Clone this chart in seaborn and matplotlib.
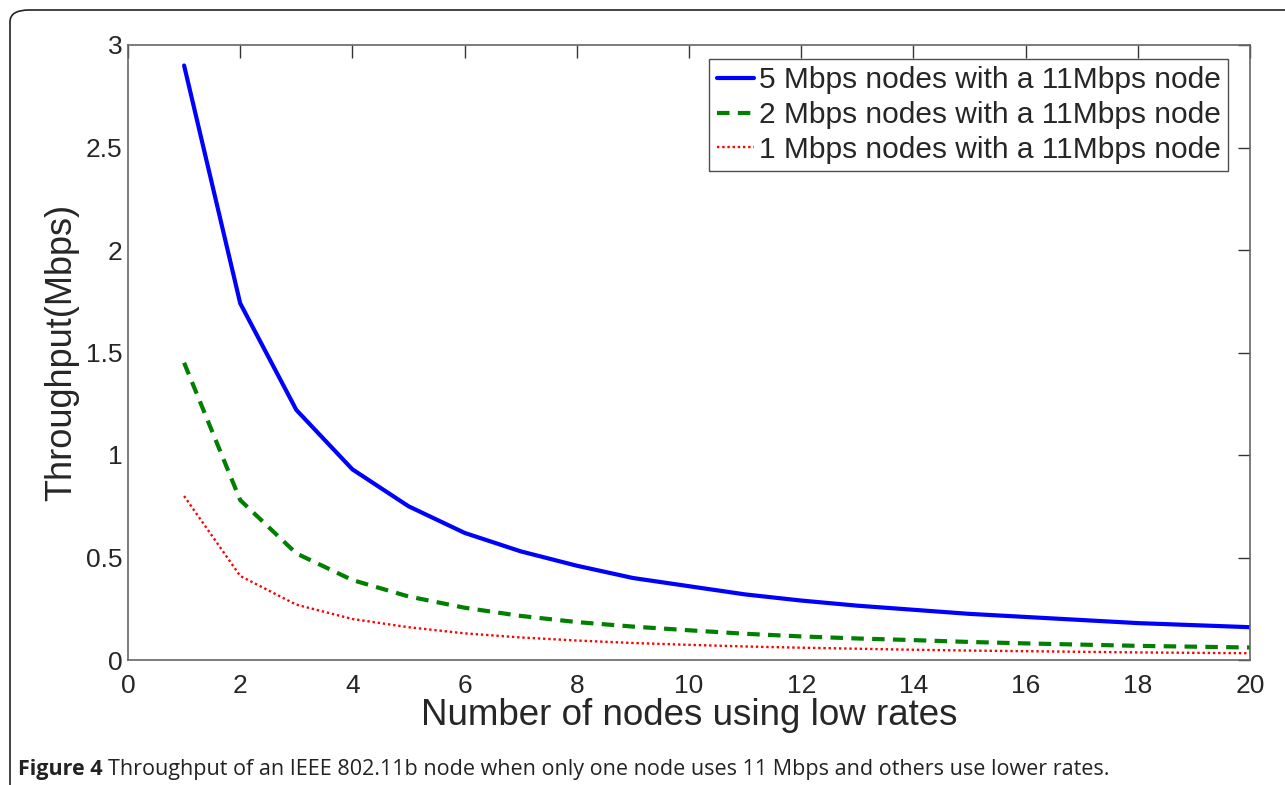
import matplotlib
matplotlib.use("Agg")
import matplotlib.pyplot as plt
from matplotlib.patches import FancyBboxPatch
import seaborn as sns
import pandas as pd

nodes = list(range(1, 21))
rate_5mbps = [2.90, 1.74, 1.22, 0.93, 0.75, 0.62, 0.53, 0.46, 0.40, 0.36,
              0.32, 0.29, 0.265, 0.245, 0.225, 0.21, 0.195, 0.18, 0.17, 0.16]
rate_2mbps = [1.45, 0.78, 0.52, 0.39, 0.31, 0.255, 0.215, 0.185, 0.163, 0.145,
              0.128, 0.115, 0.105, 0.097, 0.088, 0.081, 0.075, 0.069, 0.065, 0.061]
rate_1mbps = [0.80, 0.41, 0.27, 0.20, 0.16, 0.13, 0.11, 0.095, 0.083, 0.074,
              0.066, 0.060, 0.055, 0.050, 0.046, 0.043, 0.040, 0.037, 0.035, 0.033]
series_labels = ["5 Mbps nodes with a 11Mbps node",
                 "2 Mbps nodes with a 11Mbps node",
                 "1 Mbps nodes with a 11Mbps node"]
x_ticks = list(range(0, 21, 2))
y_ticks = [0, 0.5, 1, 1.5, 2, 2.5, 3]
y_tick_labels = ["0", "0.5", "1", "1.5", "2", "2.5", "3"]

sns.set_theme(style="white")
plt.rcParams["font.family"] = ["Liberation Sans", "DejaVu Sans"]

fig = plt.figure(figsize=(12.85, 7.85), dpi=100)
ax = fig.add_axes([128 / 1285, 1 - 660 / 785, (1250 - 128) / 1285, (660 - 45) / 785])

# rounded frame around the whole figure panel
frame = FancyBboxPatch((10 / 1285, -0.05), 1.05, 1 - 10 / 785 + 0.05,
                       boxstyle="round,pad=0,rounding_size=0.015",
                       transform=fig.transFigure, fill=False,
                       edgecolor="#222222", linewidth=1.2, zorder=0)
fig.patches.append(frame)

styles = [
    dict(color="#0000ff", linestyle="-", linewidth=3.0),
    dict(color="#007f00", linestyle=(0, (3, 2)), linewidth=3.0),
    dict(color="#ff0000", linestyle=(0, (1, 1.2)), linewidth=1.7),
]
for values, label, st in zip([rate_5mbps, rate_2mbps, rate_1mbps], series_labels, styles):
    df = pd.DataFrame({"nodes": nodes, "throughput": values})
    sns.lineplot(data=df, x="nodes", y="throughput", ax=ax, label=label, **st)

ax.set_xlim(0, 20)
ax.set_ylim(0, 3)
ax.set_xticks(x_ticks)
ax.set_xticklabels([str(t) for t in x_ticks])
ax.set_yticks(y_ticks)
ax.set_yticklabels(y_tick_labels)
ax.tick_params(direction="in", length=9, width=1, color="#333333",
               labelsize=19, top=True, right=True)
ax.tick_params(axis="x", pad=10)
ax.tick_params(axis="y", pad=4)
for spine in ax.spines.values():
    spine.set_color("#666666")
    spine.set_linewidth(1.2)

ax.set_xlabel("Number of nodes using low rates", fontsize=26.5, labelpad=0)
ax.set_ylabel("Throughput(Mbps)", fontsize=26, labelpad=5)

leg = ax.legend(loc="upper right", bbox_to_anchor=(1 - 22 / 1122, 1 - 14 / 615),
                fontsize=21.5, frameon=True, fancybox=False, borderpad=0.25,
                handlelength=1.25, handletextpad=0.15, labelspacing=0.22,
                borderaxespad=0)
leg.get_frame().set_edgecolor("#222222")
leg.get_frame().set_linewidth(1.0)

cap_fam = ["Open Sans", "DejaVu Sans"]
t1 = fig.text(18 / 1285, 1 - 769 / 785, "Figure 4", fontsize=15.5, fontweight="bold",
              family=cap_fam, va="center", ha="left", color="#222222")
fig.canvas.draw()
bb = t1.get_window_extent()
fig.text(bb.x1 / 1285 + 5 / 1285, 1 - 769 / 785,
         "Throughput of an IEEE 802.11b node when only one node uses 11 Mbps and others use lower rates.",
         fontsize=15.5, family=cap_fam, va="center", ha="left", color="#222222")

fig.savefig("out.png", dpi=100)
